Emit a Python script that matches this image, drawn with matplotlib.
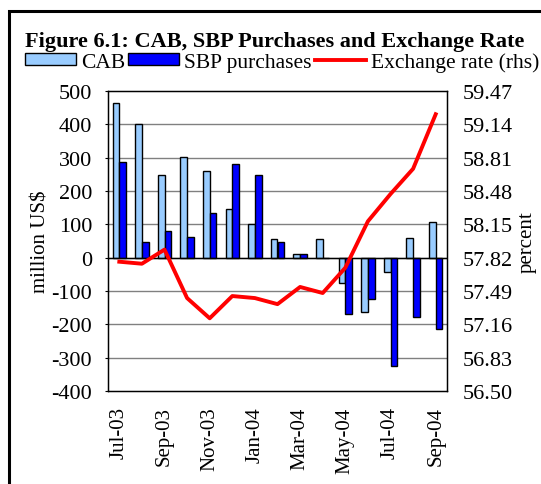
import matplotlib
matplotlib.use("Agg")
import matplotlib.pyplot as plt
from matplotlib.patches import Patch, Rectangle
from matplotlib.lines import Line2D
import numpy as np

months = ["Jul-03", "Aug-03", "Sep-03", "Oct-03", "Nov-03", "Dec-03", "Jan-04",
          "Feb-04", "Mar-04", "Apr-04", "May-04", "Jun-04", "Jul-04", "Aug-04", "Sep-04"]
cab = [465, 400, 247, 303, 259, 146, 100, 57, 12, 57, -77, -163, -44, 60, 106]
sbp = [287, 46, 79, 63, 135, 281, 247, 46, 12, 0, -168, -123, -324, -179, -213]
exch = [57.78, 57.76, 57.90, 57.42, 57.22, 57.44, 57.42, 57.36, 57.53, 57.47,
        57.72, 58.18, 58.45, 58.70, 59.24]
left_ticks = [500, 400, 300, 200, 100, 0, -100, -200, -300, -400]
right_ticks = ["59.47", "59.14", "58.81", "58.48", "58.15", "57.82", "57.49", "57.16", "56.83", "56.50"]

plt.rcParams['font.family'] = ['Liberation Serif', 'DejaVu Serif']

fig = plt.figure(figsize=(5.41, 4.85), dpi=100)
ax = fig.add_axes([108/541, 1-392/485, (447-108)/541, 300/485])

x = np.arange(len(months))
w = 0.3
ax.bar(x - w/2, cab, width=w, color="#99CCFF", edgecolor="black", linewidth=1.0, zorder=3)
ax.bar(x + w/2, sbp, width=w, color="#0000FF", edgecolor="black", linewidth=1.0, zorder=3)
ax.set_xlim(-0.5, len(months) - 0.5)
ax.set_ylim(-400, 500)
ax.set_yticks(left_ticks)
ax.set_yticklabels([str(v) for v in left_ticks], fontsize=16)
for v in left_ticks:
    if v not in (500, -400):
        ax.axhline(v, color="#808080", linewidth=1.0, zorder=1)
ax.axhline(0, color="black", linewidth=1.0, zorder=4)
ax.tick_params(axis="y", length=2.5, width=0.8, pad=9)
ax.set_xticks(x[::2])
ax.set_xticklabels(months[::2], rotation=90, fontsize=15)
ax.tick_params(axis="x", length=0, pad=11)
ax.set_ylabel("million US$", fontsize=15, labelpad=0.5)
for s in ax.spines.values():
    s.set_linewidth(1.0)

ax2 = ax.twinx()
ax2.set_ylim(56.50, 59.47)
ax2.plot(x, exch, color="#FF0000", linewidth=2.8, zorder=5)
ax2.set_yticks([float(t) for t in right_ticks])
ax2.set_yticklabels(right_ticks, fontsize=16)
ax2.tick_params(axis="y", length=0, pad=11)
ax2.set_ylabel("percent", fontsize=15, labelpad=4)

fig.text(25/541, 1-42/485, "Figure 6.1: CAB, SBP Purchases and Exchange Rate",
         fontsize=16, fontweight="bold", va="center", ha="left")

handles = [Patch(facecolor="#99CCFF", edgecolor="black", linewidth=1.0),
           Patch(facecolor="#0000FF", edgecolor="black", linewidth=1.0),
           Line2D([0], [0], color="#FF0000", linewidth=2.8)]
fig.legend(handles, ["CAB", "SBP purchases", "Exchange rate (rhs)"],
           loc="center left", bbox_to_anchor=(25/541, 1-63/485), ncol=3,
           frameon=False, fontsize=15.5, handlelength=2.35, handleheight=0.5,
           handletextpad=0.25, columnspacing=0.15, borderaxespad=0, borderpad=0)

border = Rectangle((9/541, -0.1), 1.2, 1 - 12/485 + 0.1, transform=fig.transFigure,
                   fill=False, edgecolor="black", linewidth=2.2)
fig.patches.append(border)

fig.savefig("out.png", dpi=100)
